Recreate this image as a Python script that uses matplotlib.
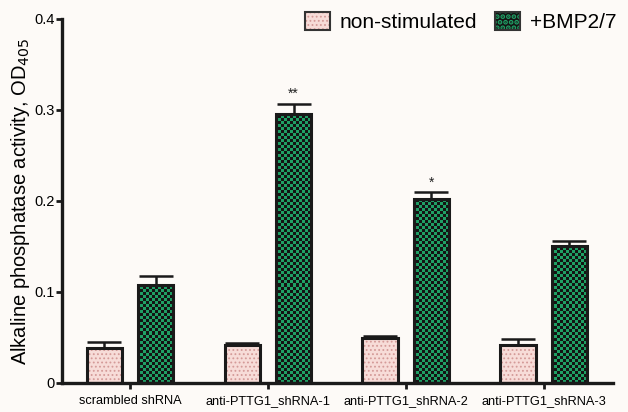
import numpy as np
import matplotlib.pyplot as plt
from matplotlib.colors import ListedColormap
from matplotlib.patches import Rectangle

groups = ['scrambled shRNA', 'anti-PTTG1_shRNA-1', 'anti-PTTG1_shRNA-2', 'anti-PTTG1_shRNA-3']
non_stim = [0.039, 0.042, 0.049, 0.042]
non_stim_err = [0.0055, 0.002, 0.0025, 0.006]
bmp = [0.108, 0.296, 0.202, 0.150]
bmp_err = [0.0095, 0.011, 0.0075, 0.006]
stars = ['', '**', '*', '']
yticks = [0, 0.1, 0.2, 0.3, 0.4]
ytick_labels = ['0', '0.1', '0.2', '0.3', '0.4']

plt.rcParams['font.family'] = ['Liberation Sans', 'DejaVu Sans']
plt.rcParams['hatch.linewidth'] = 0.8
bg = '#fdfaf7'
pink = '#f7dcd8'
dots = '#d49a98'
green = '#1fa065'
dark = '#1a1a1a'

fig = plt.figure(figsize=(6.28, 4.12), dpi=100, facecolor=bg)
ax = fig.add_axes([0.0987, 0.0704, 0.8773, 0.8836])
ax.set_facecolor(bg)

x = np.arange(len(groups))
w = 0.26
off = 0.185

b1 = ax.bar(x - off, non_stim, w, color=pink, edgecolor=dots, hatch='....',
            linewidth=0, zorder=2)
b2 = ax.bar(x + off, bmp, w, color='#151515', linewidth=0, zorder=2)

# checkerboard fill for the BMP2/7 bars, clipped to each bar
checker = np.add.outer(np.arange(121), np.arange(184)) % 2
cmap = ListedColormap(['#141414', green])
for bar in b2:
    im = ax.imshow(checker, cmap=cmap, extent=(0, 1, 0, 1), transform=ax.transAxes,
                   interpolation='nearest', aspect='auto', zorder=2.5)
    im.set_clip_path(bar)

# black outlines on top of the fills
ax.bar(x - off, non_stim, w, fill=False, edgecolor=dark, linewidth=2.2, zorder=3)
ax.bar(x + off, bmp, w, fill=False, edgecolor=dark, linewidth=2.2, zorder=3)

ax.errorbar(x - off, non_stim, yerr=[np.zeros(4), non_stim_err], fmt='none',
            ecolor=dark, elinewidth=1.8, capsize=12, capthick=1.8, zorder=4)
ax.errorbar(x + off, bmp, yerr=[np.zeros(4), bmp_err], fmt='none',
            ecolor=dark, elinewidth=1.8, capsize=12, capthick=1.8, zorder=4)

for xi, v, e, s in zip(x, bmp, bmp_err, stars):
    if s:
        ax.text(xi + off, v + e + 0.003, s, ha='center', va='bottom', fontsize=10,
                color='#222222')

ax.set_xlim(-0.493, 3.5)
ax.set_ylim(0, 0.4)
ax.set_yticks(yticks)
ax.set_yticklabels(ytick_labels)
ax.set_xticks(x)
ax.set_xticklabels(groups)
ax.tick_params(axis='y', length=4, width=2, pad=1, labelsize=10.5, color=dark)
ax.tick_params(axis='x', length=4, width=2, pad=5, labelsize=9.2, color=dark)
for s in ['top', 'right']:
    ax.spines[s].set_visible(False)
for s in ['left', 'bottom']:
    ax.spines[s].set_linewidth(2.4)
    ax.spines[s].set_color(dark)

ax.set_ylabel('Alkaline phosphatase activity, OD$_{405}$', fontsize=14.5, labelpad=2)

# legend proxies: filled patch plus outline
p1 = Rectangle((0, 0), 1, 1, facecolor=pink, edgecolor=dots, hatch='....', linewidth=0)
p2 = Rectangle((0, 0), 1, 1, facecolor='#141414', edgecolor=green, hatch='...', linewidth=0)
e1 = Rectangle((0, 0), 1, 1, fill=False, edgecolor='#333333', linewidth=1.5)
e2 = Rectangle((0, 0), 1, 1, fill=False, edgecolor='#333333', linewidth=1.5)
leg = ax.legend([(p1, e1), (p2, e2)], ['non-stimulated', '+BMP2/7'], ncol=2, frameon=False,
                loc='upper right', bbox_to_anchor=(1.04, 1.07), fontsize=15,
                handlelength=1.2, handleheight=0.95, columnspacing=0.9,
                handletextpad=0.45)
# thicker green dots in the legend swatch only
for r in leg.findobj(Rectangle):
    if r.get_hatch() == '...' and hasattr(r, 'set_hatch_linewidth'):
        r.set_hatch_linewidth(2.5)

fig.savefig('out.png', dpi=100, facecolor=bg)
